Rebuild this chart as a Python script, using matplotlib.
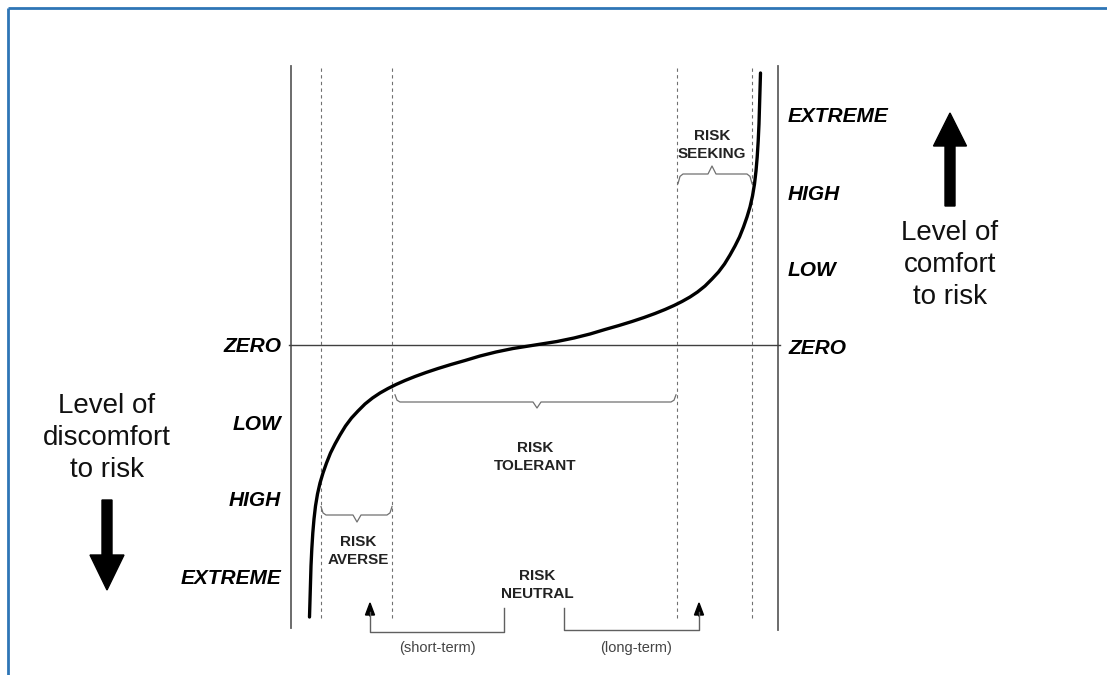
import matplotlib
matplotlib.use("Agg")
import matplotlib.pyplot as plt
from matplotlib.patches import FancyArrow

plt.rcParams['font.family'] = ['Liberation Sans', 'DejaVu Sans']

# ---- data (pixel-space diagram coordinates) ----
curve_x = [309.5, 310, 310.5, 311, 311.8, 312.8, 314, 315.5, 317.5, 320, 323,
           326.5, 330.5, 335, 340, 345.5, 351.5, 358, 365, 372.5, 380, 388,
           396, 405, 415, 426, 438, 451, 465, 480, 496, 513, 535,
           557, 574, 590, 605, 619, 632, 644, 655, 665, 674, 682, 690,
           697.5, 705, 712, 718.5, 724.5, 730, 735, 739.5, 743.5, 747, 750,
           752.5, 754.5, 756, 757.2, 758.2, 759, 759.5, 760, 760.5]
curve_y = [617, 600, 583, 566, 549, 533, 519, 506, 494, 483, 473,
           463, 453, 444, 435, 426, 418, 411, 404, 398, 393, 388.5,
           384.5, 380.5, 376.5, 372.5, 368.5, 364.5, 360.5, 356, 352, 348.5, 345,
           341.5, 338, 334, 329.5, 325.5, 321.5, 317.5, 313.5, 309.5, 305.5, 301.5, 297,
           292, 286, 279, 272, 264, 255, 246, 237, 227, 217, 207,
           196, 184, 171, 157, 141, 124, 107, 90, 73]

left_levels = ["ZERO", "LOW", "HIGH", "EXTREME"]
left_level_y = [347, 424, 500, 578]
right_levels = ["EXTREME", "HIGH", "LOW", "ZERO"]
right_level_y = [117, 195, 271, 348]

dashed_x = [321, 392, 677, 752]
zone_labels = ["RISK\nSEEKING", "RISK\nTOLERANT", "RISK\nAVERSE", "RISK\nNEUTRAL"]
zone_label_xy = [(712, 145), (535, 457), (358, 551), (537, 585)]
term_labels = ["(short-term)", "(long-term)"]
term_label_xy = [(437, 648), (636, 648)]

# ---- figure ----
fig = plt.figure(figsize=(11.07, 6.75), dpi=100)
ax = fig.add_axes([0, 0, 1, 1])
ax.set_xlim(0, 1107)
ax.set_ylim(675, 0)
ax.axis('off')

gray = '#606060'

# blue frame
ax.plot([8, 8], [675, 8], color='#2E75B6', lw=2.0, solid_capstyle='butt')
ax.plot([8, 1107], [8, 8], color='#2E75B6', lw=2.0, solid_capstyle='butt')

# axes lines
ax.plot([291, 291], [66, 628], color=gray, lw=1.3)
ax.plot([778, 778], [66, 630], color=gray, lw=1.3)
ax.plot([289, 780], [345, 345], color='#404040', lw=1.0)

# dashed verticals
for x in dashed_x:
    ax.plot([x, x], [68, 618], color='#707070', lw=0.8, ls=(0, (3, 3)))

# curve
ax.plot(curve_x, curve_y, color='black', lw=2.4, solid_capstyle='round',
        solid_joinstyle='round')


def brace(x0, x1, y, d, tipx=None):
    """horizontal curly brace; d>0 means tip points down (y grows downward)"""
    if tipx is None:
        tipx = (x0 + x1) / 2
    xs = [x0, x0 + 2, x0 + 5, tipx - 4, tipx, tipx + 4, x1 - 5, x1 - 2, x1]
    ys = [y - 1.2 * d, y - 0.3 * d, y, y, y + d, y, y, y - 0.3 * d, y - 1.2 * d]
    ax.plot(xs, ys, color='#707070', lw=0.9)


brace(678, 752, 174, -8, 712)
brace(395, 676, 402, 6, 537)
brace(321, 392, 515, 7, 357)

# neutral bracket arrows
ax.plot([504, 504, 370, 370], [608, 632, 632, 612], color=gray, lw=1.0)
ax.plot([564, 564, 699, 699], [608, 630, 630, 612], color=gray, lw=1.0)
for x in (370, 699):
    ax.add_patch(FancyArrow(x, 616, 0, -13, width=0.5, head_width=9,
                            head_length=12, length_includes_head=True,
                            color='black'))

# zone labels
for s, (x, y) in zip(zone_labels, zone_label_xy):
    ax.text(x, y, s, ha='center', va='center', fontsize=11, fontweight='bold',
            color='#222222', linespacing=1.45)
for s, (x, y) in zip(term_labels, term_label_xy):
    ax.text(x, y, s, ha='center', va='center', fontsize=10.5, color='#444444')

# level labels
for s, y in zip(left_levels, left_level_y):
    ax.text(281, y, s, ha='right', va='center', fontsize=15,
            fontweight='bold', fontstyle='italic', color='black')
for s, y in zip(right_levels, right_level_y):
    ax.text(788, y, s, ha='left', va='center', fontsize=15,
            fontweight='bold', fontstyle='italic', color='black')

# side annotations
ax.text(107, 438, "Level of\ndiscomfort\nto risk", ha='center', va='center',
        fontsize=20, color='#111111', linespacing=1.28)
ax.text(950, 265, "Level of\ncomfort\nto risk", ha='center', va='center',
        fontsize=20, color='#111111', linespacing=1.28)
ax.add_patch(FancyArrow(107, 500, 0, 90, width=10, head_width=34,
                        head_length=35, length_includes_head=True,
                        color='black'))
ax.add_patch(FancyArrow(950, 206, 0, -93, width=10, head_width=33,
                        head_length=33, length_includes_head=True,
                        color='black'))

fig.savefig("out.png", dpi=100, facecolor='white')
